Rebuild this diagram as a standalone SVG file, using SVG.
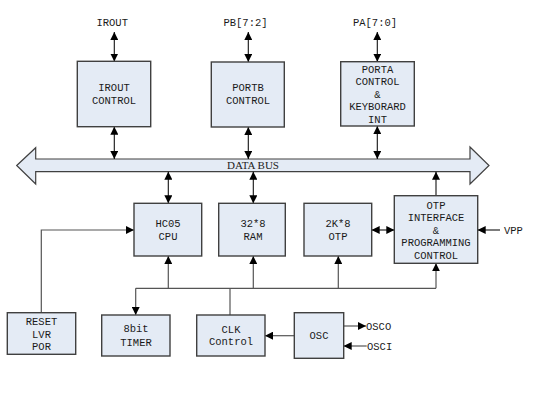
<svg xmlns="http://www.w3.org/2000/svg" width="547" height="405" viewBox="0 0 547 405">
<style>
.box{fill:#e4ebf5;stroke:#404040;stroke-width:1.4}
.t{font-family:"Liberation Mono","Courier New",monospace;font-size:10.5px;fill:#1a1a1a;text-anchor:middle}
.ts{font-family:"Liberation Mono","Courier New",monospace;font-size:10.5px;fill:#1a1a1a}
.bl{stroke:#111;stroke-width:1.1;fill:none}
.gl{stroke:#555;stroke-width:1.2;fill:none}
.bus{fill:#e4ebf5;stroke:#404040;stroke-width:1.2}
.bt{font-family:"Liberation Serif","Times New Roman",serif;font-size:11px;fill:#222;text-anchor:middle}
</style>
<defs>
<marker id="a" viewBox="0 0 8 8" refX="8" refY="4" markerWidth="8" markerHeight="8" markerUnits="userSpaceOnUse" orient="auto-start-reverse">
<path d="M0,0 L8,4 L0,8 z" fill="#000"/>
</marker>
</defs>
<rect width="547" height="405" fill="#fff"/>
<g id="databus">
<polygon class="bus" points="16.7,165.5 35.7,147.7 35.7,159 470,159 470,147 489,165.5 470,184 470,171.7 35.7,171.7 35.7,184"/>
<text class="bt" x="253" y="168.5">DATA BUS</text>
</g>
<g id="connectors">
<line class="bl" x1="114.3" y1="32" x2="114.3" y2="61.5" marker-start="url(#a)" marker-end="url(#a)"/>
<line class="bl" x1="248.3" y1="32" x2="248.3" y2="62" marker-start="url(#a)" marker-end="url(#a)"/>
<line class="bl" x1="377.3" y1="32" x2="377.3" y2="61.7" marker-start="url(#a)" marker-end="url(#a)"/>
<line class="bl" x1="114.3" y1="126.7" x2="114.3" y2="159" marker-start="url(#a)" marker-end="url(#a)"/>
<line class="bl" x1="248.3" y1="127" x2="248.3" y2="159" marker-start="url(#a)" marker-end="url(#a)"/>
<line class="bl" x1="377.3" y1="126" x2="377.3" y2="159" marker-start="url(#a)" marker-end="url(#a)"/>
<line class="bl" x1="168.3" y1="171.7" x2="168.3" y2="203.3" marker-start="url(#a)" marker-end="url(#a)"/>
<line class="bl" x1="253.3" y1="171.7" x2="253.3" y2="203.3" marker-start="url(#a)" marker-end="url(#a)"/>
<line class="bl" x1="436" y1="195.7" x2="436" y2="171.7" marker-end="url(#a)"/>
<line class="bl" x1="371.7" y1="230" x2="394.3" y2="230" marker-start="url(#a)" marker-end="url(#a)"/>
<line class="bl" x1="500" y1="230" x2="477.7" y2="230" marker-end="url(#a)"/>
<line class="gl" x1="135.7" y1="288.3" x2="436" y2="288.3"/>
<line class="gl" x1="168.3" y1="288.3" x2="168.3" y2="256" marker-end="url(#a)"/>
<line class="gl" x1="253.3" y1="288.3" x2="253.3" y2="256" marker-end="url(#a)"/>
<line class="gl" x1="338.3" y1="288.3" x2="338.3" y2="256" marker-end="url(#a)"/>
<line class="gl" x1="436" y1="288.3" x2="436" y2="263.3" marker-end="url(#a)"/>
<line class="gl" x1="135.7" y1="288.3" x2="135.7" y2="315" marker-end="url(#a)"/>
<line class="gl" x1="230" y1="288.3" x2="230" y2="315"/>
<path class="gl" d="M41.3,312.7 V230 H134" marker-end="url(#a)"/>
<line class="gl" x1="294.3" y1="335.7" x2="265" y2="335.7" marker-end="url(#a)"/>
<line class="gl" x1="343.7" y1="326" x2="366" y2="326" marker-end="url(#a)"/>
<line class="gl" x1="366.7" y1="346" x2="343.7" y2="346" marker-end="url(#a)"/>
</g>
<g id="labels">
<text class="t" x="112.2" y="26">IROUT</text>
<text class="t" x="245.5" y="26">PB[7:2]</text>
<text class="t" x="375" y="26">PA[7:0]</text>
<text class="ts" x="504" y="233.5">VPP</text>
<text class="ts" x="366" y="329.5">OSCO</text>
<text class="ts" x="367" y="349.5">OSCI</text>
</g>
<g id="irout">
<rect class="box" x="77.3" y="61.3" width="73.4" height="65.4"/>
<text class="t" x="114" y="91.2">IROUT</text>
<text class="t" x="114" y="103.8">CONTROL</text>
</g>
<g id="portb">
<rect class="box" x="211.3" y="62" width="73" height="65"/>
<text class="t" x="248" y="91.2">PORTB</text>
<text class="t" x="248" y="103.8">CONTROL</text>
</g>
<g id="porta">
<rect class="box" x="340.7" y="61.7" width="73.6" height="64.3"/>
<text class="t" x="377.5" y="72.5">PORTA</text>
<text class="t" x="377.5" y="85.2">CONTROL</text>
<text class="t" x="377.5" y="97.8">&amp;</text>
<text class="t" x="377.5" y="110.2">KEYBORARD</text>
<text class="t" x="377.5" y="122.8">INT</text>
</g>
<g id="cpu">
<rect class="box" x="134" y="203.3" width="67.7" height="52.7"/>
<text class="t" x="168" y="226.8">HC05</text>
<text class="t" x="168" y="240.2">CPU</text>
</g>
<g id="ram">
<rect class="box" x="218.7" y="203.3" width="66.6" height="52.7"/>
<text class="t" x="253" y="226.8">32*8</text>
<text class="t" x="253" y="240.2">RAM</text>
</g>
<g id="otp">
<rect class="box" x="304" y="203.3" width="67.7" height="52.7"/>
<text class="t" x="338" y="226.8">2K*8</text>
<text class="t" x="338" y="240.2">OTP</text>
</g>
<g id="otpif">
<rect class="box" x="394.3" y="195.7" width="83.4" height="67.6"/>
<text class="t" x="436" y="208.5">OTP</text>
<text class="t" x="436" y="221.2">INTERFACE</text>
<text class="t" x="436" y="233.5">&amp;</text>
<text class="t" x="436" y="246.2">PROGRAMMING</text>
<text class="t" x="436" y="258.8">CONTROL</text>
</g>
<g id="reset">
<rect class="box" x="7.3" y="312.7" width="68.4" height="41.6"/>
<text class="t" x="41.5" y="325.2">RESET</text>
<text class="t" x="41.5" y="337.8">LVR</text>
<text class="t" x="41.5" y="349.5">POR</text>
</g>
<g id="timer">
<rect class="box" x="101.7" y="315" width="68.3" height="41"/>
<text class="t" x="136" y="331.8">8bit</text>
<text class="t" x="136" y="345.8">TIMER</text>
</g>
<g id="clk">
<rect class="box" x="196.7" y="315" width="68.3" height="41"/>
<text class="t" x="231" y="332.8">CLK</text>
<text class="t" x="231" y="345.2">Control</text>
</g>
<g id="osc">
<rect class="box" x="294.3" y="312.7" width="49.4" height="45.6"/>
<text class="t" x="319" y="339.2">OSC</text>
</g>
</svg>
